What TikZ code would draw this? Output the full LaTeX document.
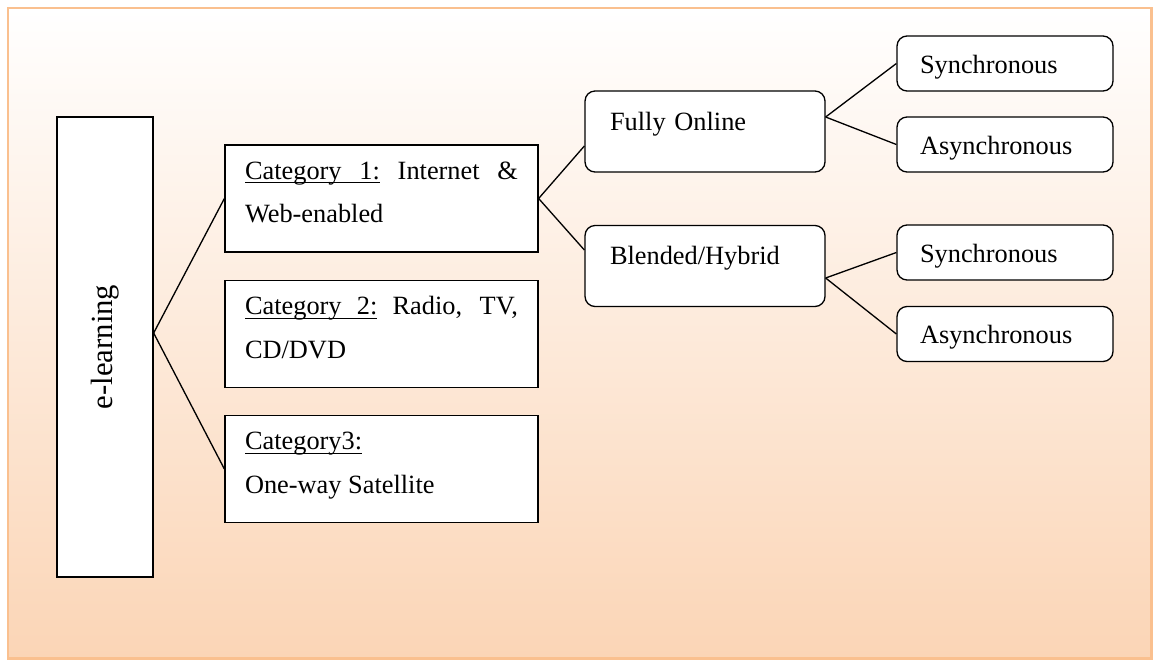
\documentclass[tikz,border=0pt]{standalone}
\usepackage{fontspec}
\setmainfont{Liberation Serif}
\definecolor{peach}{RGB}{251,213,182}
\definecolor{peachline}{RGB}{250,192,143}
\newcommand\uword[1]{\setbox0\hbox{#1}\rlap{\rule[-2.4pt]{\wd0}{0.6pt}}\box0\relax}
\newcommand\uskip{\leaders\hrule height -1.8pt depth 2.4pt\hskip\fontdimen2\font plus\fontdimen3\font minus\fontdimen4\font\relax}
\begin{document}
\begin{tikzpicture}
	[x=0.02cm,y=-0.02cm,line width=0.75pt,
	cat/.style={rectangle,draw,fill=white,text width=5.46cm,inner xsep=0.4cm,inner ysep=0pt,minimum height=2.14cm,text height=0.6cm,text depth=1.38cm,align=justify,font=\fontsize{15}{25}\selectfont},
	mode/.style={rectangle,rounded corners=0.2cm,draw,fill=white,text width=3.8cm,inner xsep=0.5cm,inner ysep=0pt,minimum height=1.62cm,text height=0.36cm,text depth=0.42cm,align=left,font=\fontsize{15}{18}\selectfont},
	sub/.style={rectangle,rounded corners=0.2cm,draw,fill=white,text width=3.4cm,inner xsep=0.46cm,inner ysep=0pt,minimum height=1.1cm,text height=0.44cm,text depth=0.06cm,align=left,font=\fontsize{15}{18}\selectfont}]
	\useasboundingbox(0,0)rectangle(1153,660);
	\draw[peachline,line width=1.7pt,top color=white,bottom color=peach](8,8)rectangle(1151,658);
	\node[rectangle,draw,fill=white,minimum width=1.92cm,minimum height=9.2cm,inner sep=0pt,font=\fontsize{17.5}{20}\selectfont,name=el]at(105,347){\rotatebox{90}{e-learning}};
	\node[cat,name=c1]at(381.5,198.5){\uword{Category}\uskip\uword{1:} Internet \& Web-enabled};
	\node[cat,name=c2]at(381.5,334){\uword{Category}\uskip\uword{2:} Radio, TV, CD/DVD};
	\node[cat,name=c3]at(381.5,469){\uword{Category3:}\\One-way Satellite};
	\node[mode,name=fo]at(705,131.5){Fully Online};
	\node[mode,name=bh]at(705,266){Blended/Hybrid};
	\node[sub,name=s1]at(1005,63.5){Synchronous};
	\node[sub,name=a1]at(1005,144.5){Asynchronous};
	\node[sub,name=s2]at(1005,252.5){Synchronous};
	\node[sub,name=a2]at(1005,334){Asynchronous};
	\draw([yshift=0.28cm]el.east)--(c1.west);
	\draw([yshift=0.28cm]el.east)--(c3.west);
	\draw(c1.east)--([yshift=-0.29cm]fo.west);
	\draw(c1.east)--([yshift=0.32cm]bh.west);
	\draw([yshift=0.29cm]fo.east)--(s1.west);
	\draw([yshift=0.29cm]fo.east)--(a1.west);
	\draw([yshift=-0.24cm]bh.east)--(s2.west);
	\draw([yshift=-0.24cm]bh.east)--(a2.west);
\end{tikzpicture}
\end{document}
